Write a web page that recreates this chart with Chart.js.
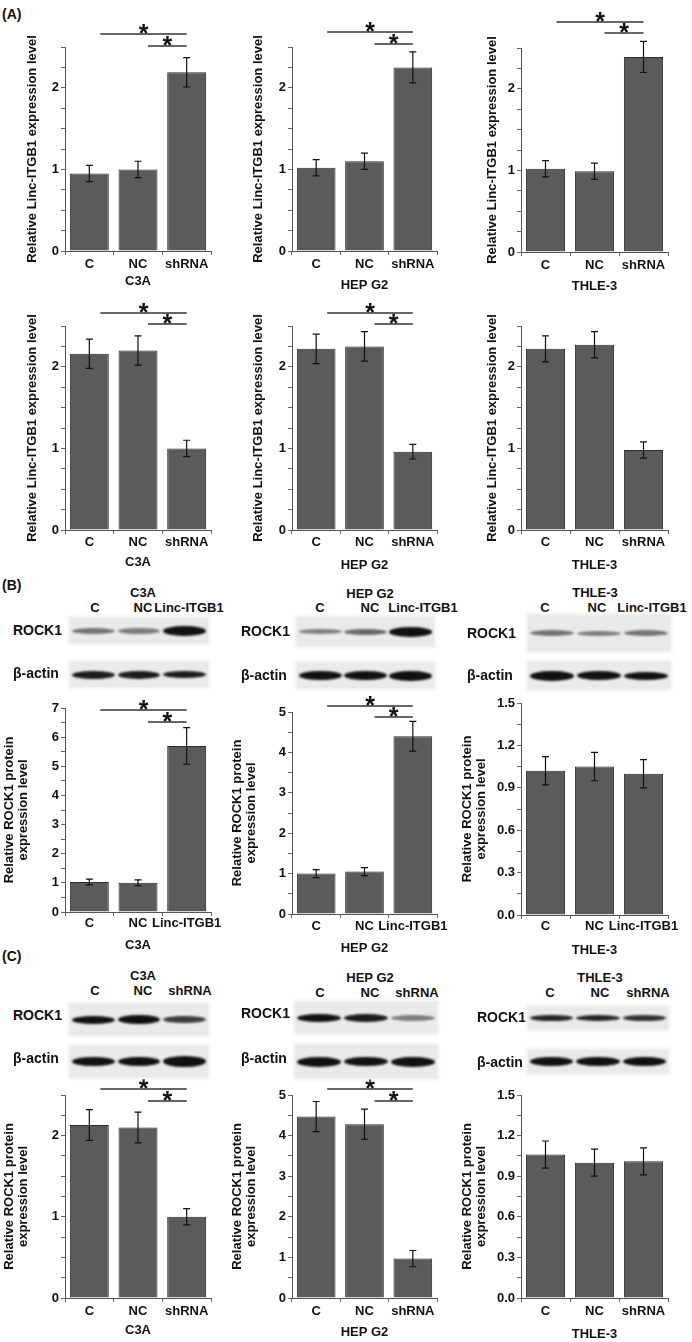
<!DOCTYPE html>
<html>
<head>
<meta charset="utf-8">
<script src="https://cdn.jsdelivr.net/npm/chart.js@4.4.1/dist/chart.umd.min.js"></script>
<style>
body{margin:0;background:#fff;width:692px;height:1342px;position:relative;overflow:hidden;
  font-family:"Liberation Sans",Arial,sans-serif;font-weight:bold;color:#111}
canvas{position:absolute}
.blot{position:absolute;background:#eaeaea;box-shadow:0 0 3px 2px #f0f0f0}
.band{position:absolute;border-radius:50%;background:#111;filter:blur(1.3px)}
.t{position:absolute;font-size:13px;white-space:nowrap;transform:translate(-50%,-50%)}
.lbl{position:absolute;font-size:14px;white-space:nowrap;transform:translateY(-50%)}
.panel{position:absolute;font-size:14px}
</style>
</head>
<body>
<div class="panel" style="left:2px;top:6px">(A)</div>
<div class="panel" style="left:2px;top:577px">(B)</div>
<div class="panel" style="left:2px;top:948px">(C)</div>
<script>
const shGroups = ['C', 'NC', 'shRNA'];
const oeGroups = ['C', 'NC', 'Linc-ITGB1'];
const cellLines = ['C3A', 'HEP G2', 'THLE-3'];

// (A) Linc-ITGB1 level, upper row
const aUpperMean = [[0.95, 1.00, 2.19], [1.02, 1.10, 2.25], [1.02, 0.99, 2.39]];
const aUpperErr  = [[0.10, 0.10, 0.18], [0.10, 0.10, 0.19], [0.10, 0.10, 0.19]];
// (A) lower row
const aLowerMean = [[2.16, 2.20, 1.00], [2.22, 2.25, 0.96], [2.22, 2.27, 0.98]];
const aLowerErr  = [[0.18, 0.18, 0.10], [0.18, 0.18, 0.09], [0.16, 0.16, 0.10]];
// (B) ROCK1 protein after Linc-ITGB1 over-expression
const bMean = [[1.03, 1.00, 5.70], [1.00, 1.05, 4.40], [1.02, 1.05, 1.00]];
const bErr  = [[0.10, 0.10, 0.63], [0.10, 0.10, 0.37], [0.10, 0.10, 0.10]];
// (C) ROCK1 protein after shRNA
const cMean = [[2.13, 2.10, 1.00], [4.47, 4.28, 0.97], [1.06, 1.00, 1.01]];
const cErr  = [[0.19, 0.19, 0.10], [0.37, 0.37, 0.20], [0.10, 0.10, 0.10]];

// y axes: [max, labelled step, minor step]
const aAxis = [2.5, 1, 0.25];
const bAxes = [[7, 1, 0.5], [5, 1, 0.5], [1.5, 0.3, 0.15]];
const cAxes = [[2.5, 1, 0.25], [5, 1, 0.5], [1.5, 0.3, 0.15]];

const titleA = 'Relative Linc-ITGB1 expression level';
const titleRock = ['Relative ROCK1 protein', 'expression level'];

// page geometry
const colX = [0, 230, 460], colW = [230, 230, 232];
const axisX = [65, 292, 521], plotR = [211, 437, 668];
const rowsGeo = [
  {top: [47, 47, 48], zero: [251, 251, 252], pad: [2, 2, 2], tit: [30, 34, 34], yPad: [25, 21, 25]},
  {top: [326, 326, 326], zero: [530, 530, 530], pad: [1, 1, 1], tit: [32, 35, 35], yPad: [25, 21, 25]},
  {top: [708, 712, 703], zero: [912, 914, 915], pad: [0, 1, 0], tit: [33, 34, 35], yPad: [2, 0, 0]},
  {top: [1095, 1095, 1095], zero: [1298, 1298, 1298], pad: [2, 2, 2], tit: [32, 34, 36], yPad: [2, 0, 0]}
];
const bracketOff = [
  [[-13, -1], [-15, -3], [-26, -15]],
  [[-13, -2], [-13, -2], null],
  [[2, 14], [-6, 5], null],
  [[-6, 6], [-6, 6], null]
];

const rows = [
  {mean: aUpperMean, err: aUpperErr, groups: shGroups, axes: [aAxis, aAxis, aAxis], title: titleA},
  {mean: aLowerMean, err: aLowerErr, groups: shGroups, axes: [aAxis, aAxis, aAxis], title: titleA},
  {mean: bMean, err: bErr, groups: oeGroups, axes: bAxes, title: titleRock},
  {mean: cMean, err: cErr, groups: shGroups, axes: cAxes, title: titleRock}
];

Chart.defaults.font.family = '"Liberation Sans", Arial, sans-serif';
Chart.defaults.font.weight = 'bold';
Chart.defaults.color = '#111';

const errorBars = {
  id: 'errorBars',
  afterDatasetsDraw(chart) {
    const errs = chart.options.plugins.errorBars.values;
    const ds = chart.data.datasets[0];
    const meta = chart.getDatasetMeta(0);
    const y = chart.scales.y;
    const ctx = chart.ctx;
    ctx.save();
    ctx.strokeStyle = '#111';
    ctx.lineWidth = 1.2;
    meta.data.forEach((bar, i) => {
      const hi = y.getPixelForValue(ds.data[i] + errs[i]);
      const lo = y.getPixelForValue(ds.data[i] - errs[i]);
      ctx.beginPath();
      ctx.moveTo(bar.x, hi); ctx.lineTo(bar.x, lo);
      ctx.moveTo(bar.x - 3.5, hi); ctx.lineTo(bar.x + 3.5, hi);
      ctx.moveTo(bar.x - 3.5, lo); ctx.lineTo(bar.x + 3.5, lo);
      ctx.stroke();
    });
    ctx.restore();
  }
};

const sigBrackets = {
  id: 'sigBrackets',
  afterDraw(chart) {
    const offs = chart.options.plugins.sigBrackets.offsets;
    if (!offs) return;
    const x = chart.scales.x;
    const top = chart.chartArea.top;
    const ctx = chart.ctx;
    const spans = [[0, 2, 11], [1, 2, 10]];
    ctx.save();
    ctx.strokeStyle = '#333';
    ctx.lineWidth = 1.3;
    ctx.fillStyle = '#111';
    ctx.font = 'bold 25px "Liberation Sans", Arial, sans-serif';
    ctx.textAlign = 'center';
    ctx.textBaseline = 'alphabetic';
    spans.forEach((s, k) => {
      const x1 = x.getPixelForValue(s[0]) + s[2];
      const x2 = x.getPixelForValue(s[1]);
      const yy = top + offs[k];
      ctx.beginPath();
      ctx.moveTo(x1, yy); ctx.lineTo(x2, yy);
      ctx.stroke();
      ctx.fillText('*', (x1 + x2) / 2, yy + 7.5);
    });
    ctx.restore();
  }
};

function tickLabel(step) {
  return function (v) {
    const k = v / step;
    if (Math.abs(k - Math.round(k)) > 1e-6) return '';
    return step < 1 ? v.toFixed(1) : String(Math.round(v));
  };
}

rows.forEach((row, r) => {
  const g = rowsGeo[r];
  for (let c = 0; c < 3; c++) {
    const topPad = 45;
    const cTop = g.top[c] - topPad;
    const cBottom = g.zero[c] + g.tit[c] + 9;
    const xH = cBottom - g.zero[c];
    const cv = document.createElement('canvas');
    cv.style.left = colX[c] + 'px';
    cv.style.top = cTop + 'px';
    cv.width = colW[c];
    cv.height = cBottom - cTop;
    document.body.appendChild(cv);
    const ax = row.axes[c];
    new Chart(cv, {
      type: 'bar',
      data: {
        labels: row.groups,
        datasets: [{
          data: row.mean[c],
          backgroundColor: '#5b5b5b',
          borderColor: '#2b2b2b',
          borderWidth: 1,
          barPercentage: 0.8,
          categoryPercentage: 1
        }]
      },
      options: {
        responsive: false,
        animation: false,
        devicePixelRatio: 1,
        layout: {padding: {top: topPad, left: 0, bottom: 0, right: colX[c] + colW[c] - plotR[c]}},
        plugins: {
          legend: {display: false},
          tooltip: {enabled: false},
          errorBars: {values: row.err[c]},
          sigBrackets: {offsets: bracketOff[r][c]}
        },
        scales: {
          x: {
            offset: true,
            grid: {display: true, drawOnChartArea: false, tickLength: 4, color: '#666', offset: true},
            border: {display: true, color: '#555', width: 1},
            ticks: {font: {size: 13, weight: 'bold'}, padding: g.pad[c], autoSkip: false, maxRotation: 0},
            title: {display: true, text: cellLines[c], font: {size: 13, weight: 'bold'}, padding: {top: 0, bottom: xH - g.tit[c] - 7.8}},
            afterFit(s) { s.height = xH; s.paddingLeft = 0; s.paddingRight = 0; }
          },
          y: {
            min: 0,
            max: ax[0],
            grid: {display: true, drawOnChartArea: false, tickLength: 4, color: '#666'},
            border: {display: true, color: '#555', width: 1},
            ticks: {stepSize: ax[2], autoSkip: false, callback: tickLabel(ax[1]), font: {size: 13, weight: 'bold'}, padding: 2},
            title: {display: true, text: row.title, font: {size: 13, weight: 'bold', lineHeight: 1.1}, padding: {top: g.yPad[c], bottom: 0}},
            afterFit(s) { s.width = axisX[c] - colX[c]; }
          }
        }
      },
      plugins: [errorBars, sigBrackets]
    });
  }
});

// western blot panels (decoration above the bar charts)
const blotPanels = [
  {head: [143, 592], lanesY: 607, lanesX: [95, 143, 189], names: oeGroups, cell: 0, lblX: 13,
   rock: {y: 630, box: [70, 618, 138, 25], bands: [[.55, 6], [.5, 6], [1, 10]]},
   actin: {y: 673, box: [70, 662, 138, 25], bands: [[.95, 8], [.95, 8], [.95, 7]]}},
  {head: [370, 593], lanesY: 607, lanesX: [320, 370, 423], names: oeGroups, cell: 1, lblX: 241,
   rock: {y: 631, box: [297, 617, 137, 29], bands: [[.5, 5], [.6, 6], [1, 10]]},
   actin: {y: 675, box: [297, 663, 137, 25], bands: [[1, 9], [1, 9], [1, 10]]}},
  {head: [595, 592], lanesY: 607, lanesX: [545, 597, 652], names: oeGroups, cell: 2, lblX: 467,
   rock: {y: 633, box: [528, 615, 142, 36], bands: [[.55, 6], [.5, 5], [.55, 6]]},
   actin: {y: 675, box: [528, 662, 142, 27], bands: [[1, 10], [1, 9], [1, 8]]}},
  {head: [143, 975], lanesY: 990, lanesX: [95, 143, 190], names: shGroups, cell: 0, lblX: 13,
   rock: {y: 1015, box: [70, 1004, 138, 31], bands: [[1, 8], [1, 9], [.8, 7]]},
   actin: {y: 1058, box: [70, 1046, 138, 31], bands: [[1, 9], [1, 9], [1, 11]]}},
  {head: [370, 977], lanesY: 992, lanesX: [320, 370, 417], names: shGroups, cell: 1, lblX: 241,
   rock: {y: 1013, box: [295, 1002, 142, 31], bands: [[1, 8], [.95, 8], [.5, 6]]},
   actin: {y: 1058, box: [295, 1045, 142, 33], bands: [[1, 10], [1, 9], [1, 10]]}},
  {head: [600, 977], lanesY: 992, lanesX: [550, 600, 648], names: shGroups, cell: 2, lblX: 477,
   rock: {y: 1017, box: [528, 1007, 140, 22], bands: [[.9, 6], [.9, 6], [.85, 6]]},
   actin: {y: 1062, box: [528, 1050, 140, 23], bands: [[1, 9], [1, 9], [1, 9]]}}
];

function addText(cls, text, x, y) {
  const d = document.createElement('div');
  d.className = cls;
  d.textContent = text;
  d.style.left = x + 'px';
  d.style.top = y + 'px';
  document.body.appendChild(d);
}

function addBlot(strip) {
  const [bx, by, bw, bh] = strip.box;
  const box = document.createElement('div');
  box.className = 'blot';
  Object.assign(box.style, {left: bx + 'px', top: by + 'px', width: bw + 'px', height: bh + 'px'});
  [0.17, 0.5, 0.83].forEach((f, i) => {
    const [op, h] = strip.bands[i];
    const b = document.createElement('div');
    b.className = 'band';
    const w = bw * 0.31;
    Object.assign(b.style, {left: (bw * f - w / 2) + 'px', top: (bh / 2 - h / 2) + 'px',
      width: w + 'px', height: h + 'px', opacity: op});
    box.appendChild(b);
  });
  document.body.appendChild(box);
}

blotPanels.forEach(p => {
  addText('t', cellLines[p.cell], p.head[0], p.head[1]);
  p.names.forEach((n, i) => addText('t', n, p.lanesX[i], p.lanesY));
  addText('lbl', 'ROCK1', p.lblX, p.rock.y);
  addText('lbl', 'β-actin', p.lblX, p.actin.y);
  addBlot(p.rock);
  addBlot(p.actin);
});
</script>
</body>
</html>
